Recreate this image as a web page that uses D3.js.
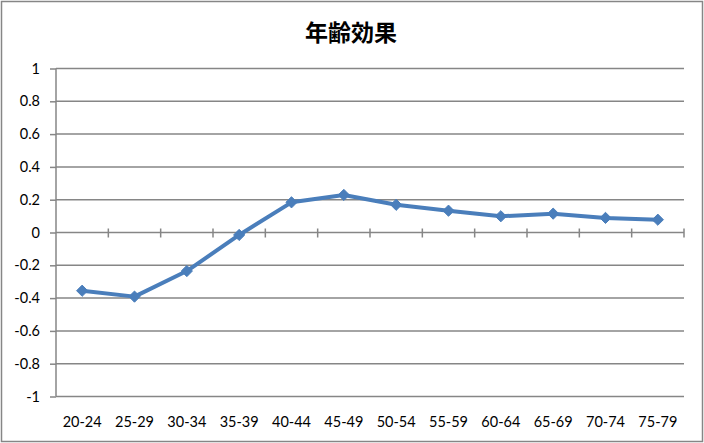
<!doctype html>
<html>
<head>
<meta charset="utf-8">
<style>
    body { margin: 0; background: #fff; }
    svg { display: block; }
</style>
<script src="https://d3js.org/d3.v7.min.js"></script>
</head>
<body>

    <svg id="chart" width="704" height="443"></svg>

    <script>

        // Data
        var ageGroups = ["20-24", "25-29", "30-34", "35-39", "40-44", "45-49", "50-54", "55-59", "60-64", "65-69", "70-74", "75-79"];
        var ageEffect = [-0.355, -0.391, -0.235, -0.015, 0.184, 0.229, 0.169, 0.133, 0.099, 0.115, 0.089, 0.078];
        var yTicks = [1, 0.8, 0.6, 0.4, 0.2, 0, -0.2, -0.4, -0.6, -0.8, -1];

        var svg = d3.select("#chart"), width = +svg.attr("width"), height = +svg.attr("height");
        var plotLeft = 56, plotRight = 684, plotTop = 68.5, plotBottom = 396.5;

        // outer frame
        svg.append("rect")
          .attr("x", 1.5).attr("y", 1.5)
          .attr("width", width - 3).attr("height", height - 3)
          .attr("fill", "#fff")
          .attr("stroke", "#868686")
          .attr("stroke-width", 1.5);

        // title
        svg.append("text")
          .attr("x", 351).attr("y", 41)
          .attr("text-anchor", "middle")
          .attr("font-family", "'Noto Sans CJK JP', sans-serif")
          .attr("font-weight", "bold")
          .attr("font-size", 23)
          .attr("fill", "#000")
          .text("年齢効果");

        var x = d3.scaleBand().domain(ageGroups).range([plotLeft, plotRight]);
        var y = d3.scaleLinear().domain([-1, 1]).range([plotBottom, plotTop]);

        // gridlines
        svg.append("g")
          .selectAll("line")
          .data(yTicks)
          .enter()
          .append("line")
            .attr("x1", plotLeft).attr("x2", plotRight)
            .attr("y1", function (d) { return y(d); })
            .attr("y2", function (d) { return y(d); })
            .attr("stroke", "#868686")
            .attr("stroke-width", 1.5);

        // y axis
        var yAxis = svg.append("g")
          .attr("transform", "translate(" + plotLeft + ",0)")
          .call(d3.axisLeft(y).tickValues(yTicks).tickSize(6).tickPadding(10)
            .tickFormat(function (d) { return String(+d.toFixed(1)); }));
        yAxis.select(".domain").attr("stroke", "#868686").attr("stroke-width", 1.5).attr("d", "M0," + plotTop + "V" + plotBottom);
        yAxis.selectAll(".tick line").attr("stroke", "#868686").attr("stroke-width", 1.5);
        yAxis.selectAll(".tick text")
          .attr("font-family", "Lato, sans-serif")
          .attr("font-size", 14.5)
          .attr("fill", "#000");

        // category axis crossing at zero
        var cuts = ageGroups.map(function (d) { return x(d) + x.bandwidth(); });
        svg.append("g")
          .selectAll("line")
          .data(cuts)
          .enter()
          .append("line")
            .attr("x1", function (d) { return d; })
            .attr("x2", function (d) { return d; })
            .attr("y1", y(0) - 4)
            .attr("y2", y(0) + 5)
            .attr("stroke", "#868686")
            .attr("stroke-width", 1.5);

        // category labels at the bottom
        svg.append("g")
          .selectAll("text")
          .data(ageGroups)
          .enter()
          .append("text")
            .attr("x", function (d) { return x(d) + x.bandwidth() / 2; })
            .attr("y", 427)
            .attr("text-anchor", "middle")
            .attr("font-family", "Lato, sans-serif")
            .attr("font-size", 14.5)
            .attr("fill", "#000")
            .text(function (d) { return d; });

        // the series
        var pts = ageGroups.map(function (d, i) { return [x(d) + x.bandwidth() / 2, y(ageEffect[i])]; });

        svg.append("path")
          .attr("d", d3.line()(pts))
          .attr("fill", "none")
          .attr("stroke", "#4a7ebb")
          .attr("stroke-width", 4)
          .attr("stroke-linejoin", "round");

        svg.append("g")
          .selectAll("path")
          .data(pts)
          .enter()
          .append("path")
            .attr("transform", function (d) { return "translate(" + d[0] + "," + d[1] + ")"; })
            .attr("d", d3.symbol().type(d3.symbolDiamond2).size(80))
            .attr("fill", "#4a7ebb")
            .attr("stroke", "#4a7ebb")
            .attr("stroke-width", 1);

    </script>

</body>
</html>
